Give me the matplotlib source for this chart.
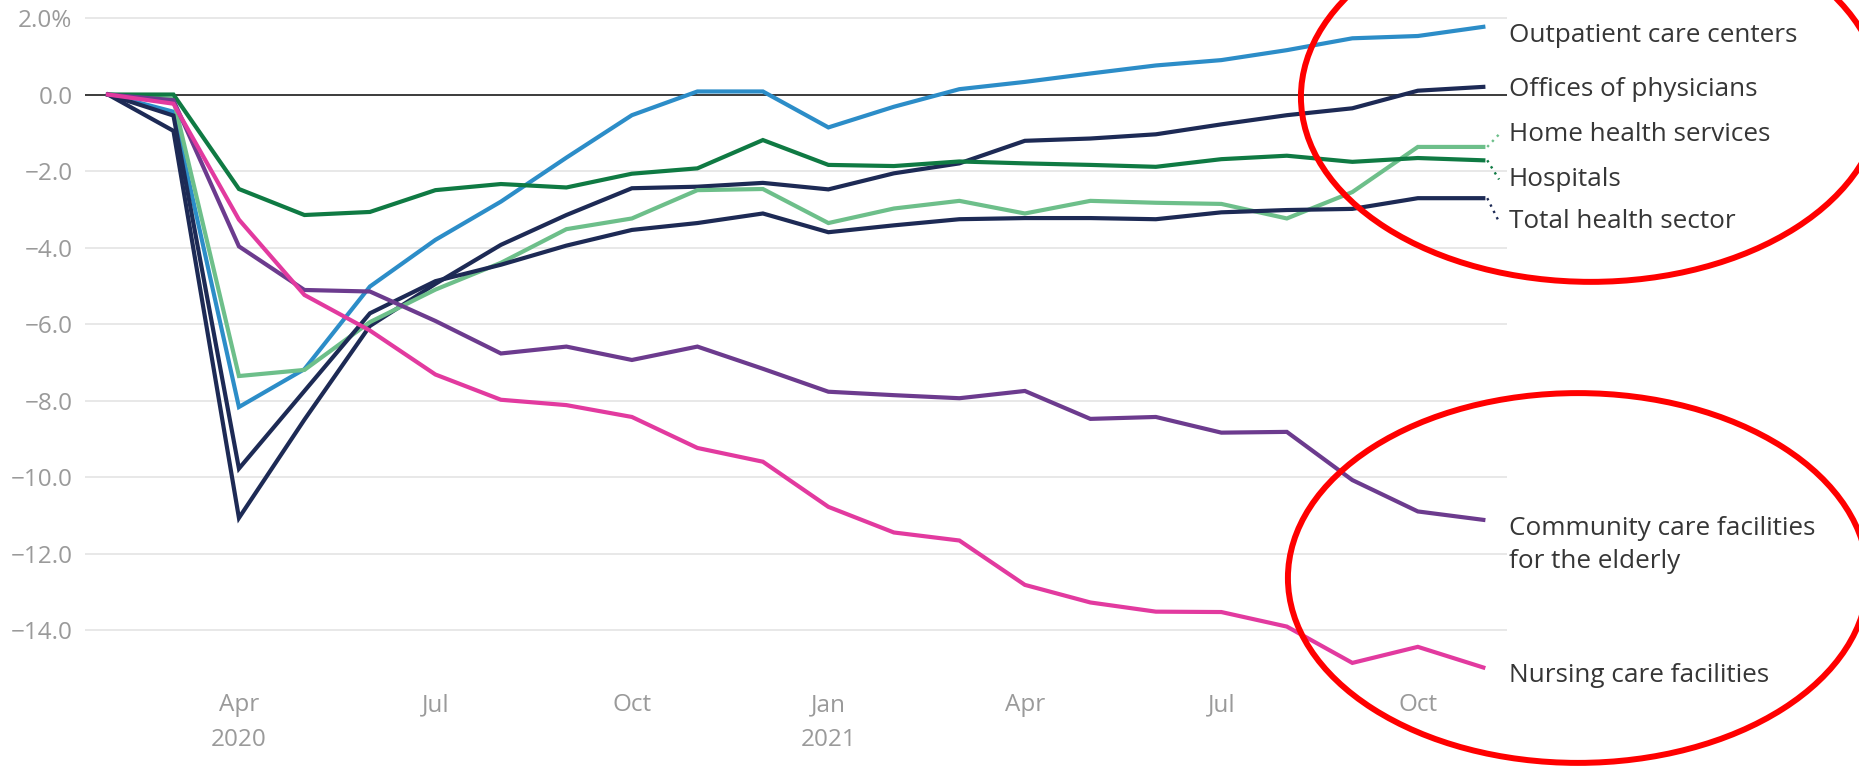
import matplotlib
matplotlib.use("Agg")
import matplotlib.pyplot as plt
from matplotlib.patches import Ellipse

plt.rcParams['font.family'] = ['Open Sans', 'DejaVu Sans']

# monthly change in employment since Feb 2020, Feb 2020 .. Nov 2021
months = ['Feb 2020', 'Mar', 'Apr', 'May', 'Jun', 'Jul', 'Aug', 'Sep', 'Oct', 'Nov', 'Dec',
          'Jan 2021', 'Feb', 'Mar', 'Apr', 'May', 'Jun', 'Jul', 'Aug', 'Sep', 'Oct', 'Nov']

outpatient = [0, -0.45, -8.17, -7.18, -5.02, -3.8, -2.8, -1.65, -0.54, 0.08, 0.08,
              -0.86, -0.32, 0.14, 0.33, 0.55, 0.76, 0.9, 1.16, 1.47, 1.53, 1.77]
offices = [0, -0.95, -11.07, -8.5, -6.05, -4.95, -3.93, -3.15, -2.45, -2.41, -2.31,
           -2.48, -2.06, -1.8, -1.21, -1.15, -1.04, -0.78, -0.54, -0.36, 0.1, 0.2]
home_health = [0, -0.12, -7.36, -7.2, -5.95, -5.1, -4.4, -3.52, -3.24, -2.5, -2.47,
               -3.36, -2.98, -2.78, -3.11, -2.78, -2.83, -2.86, -3.24, -2.55, -1.37, -1.37]
hospitals = [0, 0, -2.47, -3.15, -3.07, -2.5, -2.34, -2.43, -2.07, -1.93, -1.19,
             -1.84, -1.87, -1.75, -1.8, -1.84, -1.89, -1.69, -1.6, -1.76, -1.66, -1.72]
total = [0, -0.55, -9.78, -7.75, -5.72, -4.88, -4.45, -3.95, -3.54, -3.36, -3.11,
         -3.6, -3.42, -3.26, -3.23, -3.23, -3.26, -3.08, -3.02, -2.99, -2.71, -2.71]
community = [0, -0.15, -3.97, -5.11, -5.15, -5.92, -6.77, -6.59, -6.94, -6.59, -7.17,
             -7.77, -7.86, -7.94, -7.75, -8.48, -8.43, -8.84, -8.82, -10.08, -10.9, -11.12]
nursing = [0, -0.24, -3.27, -5.24, -6.17, -7.32, -7.98, -8.12, -8.43, -9.24, -9.6,
           -10.78, -11.45, -11.66, -12.82, -13.28, -13.52, -13.53, -13.91, -14.86, -14.44, -14.98]

names = ['Outpatient care centers', 'Offices of physicians', 'Home health services',
         'Hospitals', 'Total health sector', 'Community care facilities\nfor the elderly',
         'Nursing care facilities']
series = [outpatient, offices, home_health, hospitals, total, community, nursing]
colors = ['#2c8dc8', '#1d2a55', '#6dbf8a', '#0f7a43', '#1d2a55', '#6c3b8e', '#e23a9f']
label_y = [1.55, 0.12, -1.04, -2.22, -3.33, -11.78, -15.18]
connector = [False, False, True, True, True, False, False]

xtick_pos = [2, 5, 8, 11, 14, 17, 20]
xtick_labels = ['Apr\n2020', 'Jul', 'Oct', 'Jan\n2021', 'Apr', 'Jul', 'Oct']
yticks = [2, 0, -2, -4, -6, -8, -10, -12, -14]

fig = plt.figure(figsize=(18.59, 7.72), dpi=100)
ax = fig.add_axes([0.0457, 0.1096, 0.7649, 0.872])

x = list(range(len(months)))
for vals, c in zip(series, colors):
    ax.plot(x, vals, color=c, lw=3.0, solid_joinstyle='miter', zorder=3)

ax.axhline(0, color='#3c3c3c', lw=1.4, zorder=2)

# end labels
for name, vals, c, ly, conn in zip(names, series, colors, label_y, connector):
    ax.text(21.39, ly, name, fontsize=18.8, color='#363636', va='center', ha='left',
            linespacing=1.4, clip_on=False)
    if conn:
        ax.plot([21.06, 21.24], [vals[-1], ly], color=c, lw=1.7,
                linestyle=(0, (1, 2)), clip_on=False, zorder=3)

ax.set_xlim(-0.351, 21.36)
ax.set_ylim(-15.5, 2.1)

ax.set_xticks(xtick_pos)
ax.set_xticklabels(xtick_labels)
ax.set_yticks(yticks)
ax.set_yticklabels([f'{v:.1f}%' if v == yticks[0] else f'{v:.1f}'.replace('-', '\u2212')
                    for v in yticks])
ax.tick_params(axis='both', length=0, labelsize=17.5, labelcolor='#9a9a9a')
ax.tick_params(axis='y', pad=9)
ax.tick_params(axis='x', pad=4)
for lbl in ax.get_xticklabels():
    lbl.set_linespacing(1.6)

ax.grid(axis='y', color='#e6e6e6', lw=1.3, zorder=0)
for s in ax.spines.values():
    s.set_visible(False)

# red highlight rings
for cx, cy in [(0.8558, 0.8744), (0.8488, 0.2513)]:
    fig.add_artist(Ellipse((cx, cy), 0.312, 0.479, transform=fig.transFigure,
                           fill=False, ec='#ff0000', lw=4.3, zorder=10))

fig.savefig('out.png', dpi=100, facecolor='white')
